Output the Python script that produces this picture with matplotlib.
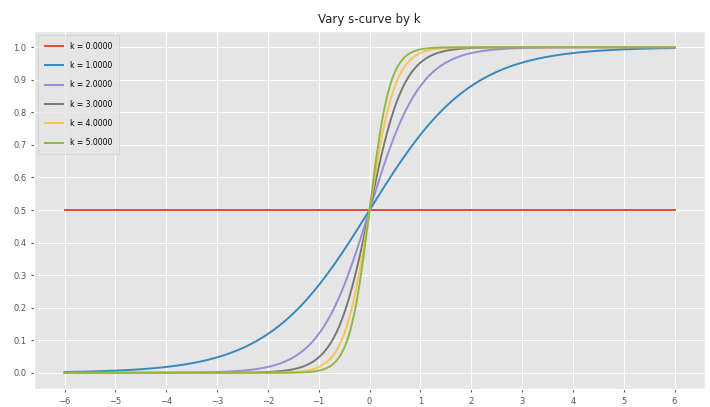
import numpy as np
import matplotlib
matplotlib.use("Agg")
import matplotlib.pyplot as plt

plt.style.use("ggplot")

# steepness values for the logistic curves
k_values = [0.0, 1.0, 2.0, 3.0, 4.0, 5.0]
x_range = [-6, 6]
title = "Vary s-curve by k"

x = np.linspace(x_range[0], x_range[1], 400)

fig = plt.figure(figsize=(7.1, 4.07), dpi=100)
ax = fig.add_axes([0.048, 0.044, 0.945, 0.88])

for k in k_values:
    y = 1.0 / (1.0 + np.exp(-k * x))
    ax.plot(x, y, lw=1.4, label=f"k = {k:.4f}")

ax.set_title(title, fontsize=8.5, color="#222222", pad=6)
ax.set_xticks(range(-6, 7))
ax.set_yticks(np.round(np.arange(0, 1.01, 0.1), 1))
ax.tick_params(labelsize=6, colors="#555555", length=2)
ax.legend(loc="upper left", fontsize=5.5, handlelength=2.4,
          labelspacing=1.35, borderpad=0.9, handletextpad=0.9)

fig.savefig("out.png", dpi=100)
